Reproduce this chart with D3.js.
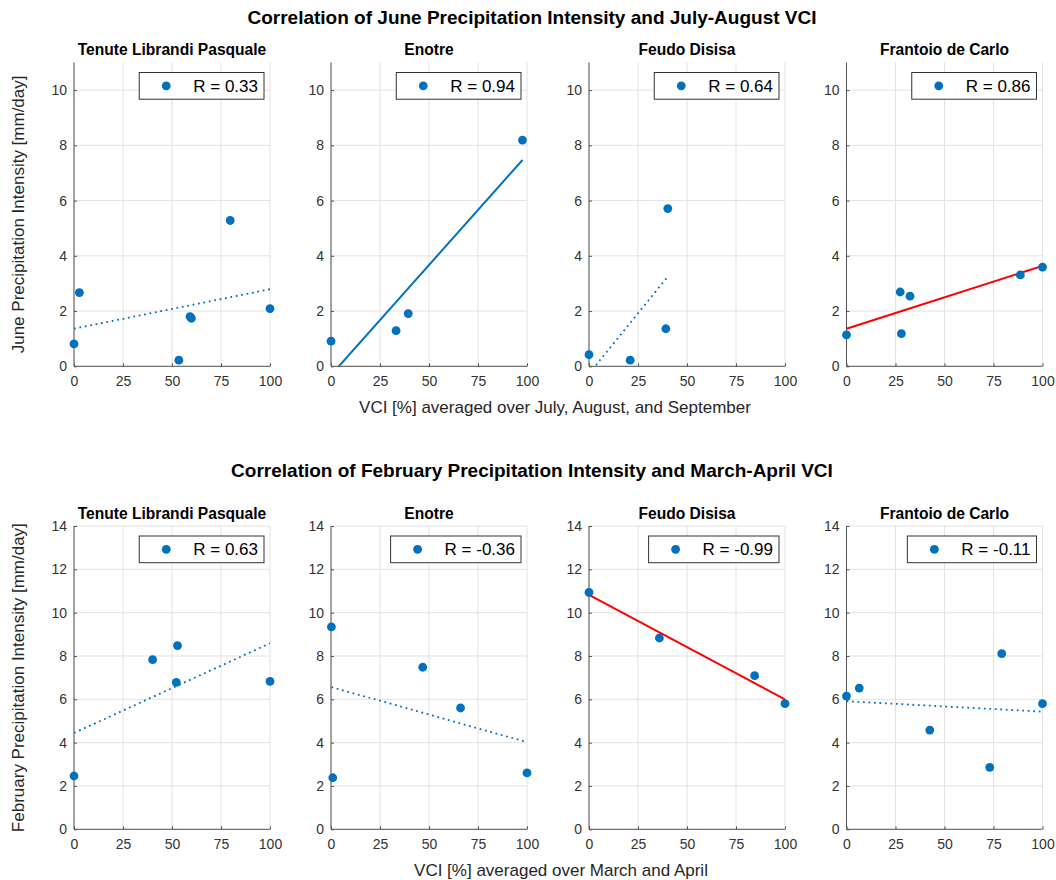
<!DOCTYPE html>
<html>
<head>
<meta charset="utf-8">
<script src="https://cdn.jsdelivr.net/npm/d3@7"></script>
<style>
  body { margin: 0; background: #fff; }
  svg text { font-family: "Liberation Sans", Arial, Helvetica, sans-serif; }
</style>
</head>
<body>
<svg id="chart" width="1056" height="880"></svg>
<script>
// sites shown in both rows
const sites = ["Tenute Librandi Pasquale", "Enotre", "Feudo Disisa", "Frantoio de Carlo"];
const xTicks = [0, 25, 50, 75, 100];

// row 1: June precipitation vs July-September VCI
const juneVCI = [
    [0, 2.75, 53.5, 59.2, 59.9, 79.7, 100],
    [0, 33.2, 39.4, 97.7],
    [0, 21, 39.2, 40.2],
    [0, 27.4, 28, 32.4, 88.7, 100]
];
const junePrecip = [
    [0.81, 2.67, 0.22, 1.80, 1.74, 5.28, 2.09],
    [0.91, 1.29, 1.91, 8.19],
    [0.42, 0.22, 1.36, 5.71],
    [1.14, 2.69, 1.18, 2.54, 3.31, 3.59]
];
const juneR = ["0.33", "0.94", "0.64", "0.86"];
const juneFit = ["dotted", "solid", "dotted", "red"];
const juneYTicks = [0, 2, 4, 6, 8, 10];

// row 2: February precipitation vs March-April VCI
const febVCI = [
    [0, 40.1, 52.2, 52.8, 100],
    [0.2, 0.9, 46.8, 66.1, 100],
    [0, 35.9, 84.5, 100],
    [0, 6.5, 42.5, 73.1, 79.2, 100]
];
const febPrecip = [
    [2.46, 7.83, 6.78, 8.48, 6.83],
    [9.34, 2.38, 7.48, 5.60, 2.60],
    [10.94, 8.83, 7.09, 5.80],
    [6.15, 6.52, 4.58, 2.86, 8.11, 5.80]
];
const febR = ["0.63", "-0.36", "-0.99", "-0.11"];
const febFit = ["dotted", "dotted", "red", "dotted"];
const febYTicks = [0, 2, 4, 6, 8, 10, 12, 14];

const blue = '#0072BD';
const red = '#FF0000';
const axisColor = '#555';
const gridColor = '#e2e2e2';

const svg = d3.select('#chart');
const panelLeft = [74, 331, 589, 846.5];
const panelW = 196;

const rows = [
    {
        title: 'Correlation of June Precipitation Intensity and July-August VCI', titleY: 23.5,
        ylabel: 'June Precipitation Intensity [mm/day]',
        xlabel: 'VCI [%] averaged over July, August, and September', xlabelX: 555,
        top: 62.5, bottom: 366.3, ymax: 11, yTicks: juneYTicks,
        xs: juneVCI, ys: junePrecip, r: juneR, fit: juneFit
    },
    {
        title: 'Correlation of February Precipitation Intensity and March-April VCI', titleY: 477,
        ylabel: 'February Precipitation Intensity [mm/day]',
        xlabel: 'VCI [%] averaged over March and April', xlabelX: 561,
        top: 526, bottom: 829.3, ymax: 14, yTicks: febYTicks,
        xs: febVCI, ys: febPrecip, r: febR, fit: febFit
    }
];

// least-squares line across the data's x range
function fitLine(xs, ys) {
    const mx = d3.mean(xs), my = d3.mean(ys);
    let sxy = 0, sxx = 0;
    xs.forEach((x, i) => { sxy += (x - mx) * (ys[i] - my); sxx += (x - mx) * (x - mx); });
    const slope = sxy / sxx, icpt = my - slope * mx;
    const [x0, x1] = d3.extent(xs);
    return [[x0, icpt + slope * x0], [x1, icpt + slope * x1]];
}

rows.forEach((row, ri) => {
    svg.append('text')
        .attr('x', 532).attr('y', row.titleY)
        .attr('text-anchor', 'middle')
        .style('font-size', '19px').style('font-weight', 'bold').attr('fill', '#000')
        .text(row.title);

    svg.append('text')
        .attr('transform', `translate(23.5, ${(row.top + row.bottom) / 2}) rotate(-90)`)
        .attr('text-anchor', 'middle')
        .style('font-size', '17px').attr('fill', '#262626')
        .text(row.ylabel);

    svg.append('text')
        .attr('x', row.xlabelX).attr('y', row.bottom + 47)
        .attr('text-anchor', 'middle')
        .style('font-size', '17px').attr('fill', '#262626')
        .text(row.xlabel);

    sites.forEach((site, pi) => {
        const left = panelLeft[pi];
        const x = d3.scaleLinear().domain([0, 100]).range([left, left + panelW]);
        const y = d3.scaleLinear().domain([0, row.ymax]).range([row.bottom, row.top]);
        const g = svg.append('g');

        const clipId = `clip-${ri}-${pi}`;
        g.append('clipPath').attr('id', clipId)
            .append('rect')
            .attr('x', left).attr('y', row.top)
            .attr('width', panelW).attr('height', row.bottom - row.top);

        // grid
        g.selectAll('.gx').data(xTicks).enter().append('line')
            .attr('x1', d => x(d)).attr('x2', d => x(d))
            .attr('y1', row.top).attr('y2', row.bottom)
            .attr('stroke', gridColor).attr('stroke-width', 1);
        g.selectAll('.gy').data(row.yTicks).enter().append('line')
            .attr('x1', left).attr('x2', left + panelW)
            .attr('y1', d => y(d)).attr('y2', d => y(d))
            .attr('stroke', gridColor).attr('stroke-width', 1);

        // axes
        const xAxis = d3.axisBottom(x).tickValues(xTicks).tickSize(-3).tickPadding(10).tickFormat(d3.format('d'));
        const yAxis = d3.axisLeft(y).tickValues(row.yTicks).tickSize(-3).tickPadding(7).tickFormat(d3.format('d'));

        g.append('g')
            .attr('transform', `translate(0, ${row.bottom})`)
            .call(xAxis)
            .call(a => {
                a.select('.domain').remove();
                a.selectAll('.tick line').attr('stroke', axisColor);
                a.selectAll('.tick text').style('font-size', '14px').attr('fill', '#333');
            });
        g.append('g')
            .attr('transform', `translate(${left}, 0)`)
            .call(yAxis)
            .call(a => {
                a.select('.domain').remove();
                a.selectAll('.tick line').attr('stroke', axisColor);
                a.selectAll('.tick text').style('font-size', '14px').attr('fill', '#333');
            });

        g.append('line')
            .attr('x1', left).attr('x2', left).attr('y1', row.top).attr('y2', row.bottom)
            .attr('stroke', axisColor).attr('stroke-width', 1);
        g.append('line')
            .attr('x1', left).attr('x2', left + panelW).attr('y1', row.bottom).attr('y2', row.bottom)
            .attr('stroke', axisColor).attr('stroke-width', 1);

        // fitted line
        const pts = fitLine(row.xs[pi], row.ys[pi]);
        const style = row.fit[pi];
        g.append('path')
            .attr('clip-path', `url(#${clipId})`)
            .attr('d', d3.line().x(d => x(d[0])).y(d => y(d[1]))(pts))
            .attr('fill', 'none')
            .attr('stroke', style === 'red' ? red : blue)
            .attr('stroke-width', style === 'dotted' ? 1.8 : 2)
            .attr('stroke-dasharray', style === 'dotted' ? '1.8,3.7' : null);

        // points
        const data = row.xs[pi].map((v, i) => ({ vci: v, p: row.ys[pi][i] }));
        g.selectAll('.pt').data(data).enter().append('circle')
            .attr('cx', d => x(d.vci)).attr('cy', d => y(d.p))
            .attr('r', 4.4).attr('fill', blue);

        // subplot title
        g.append('text')
            .attr('x', left + panelW / 2).attr('y', row.top - 7.5)
            .attr('text-anchor', 'middle')
            .style('font-size', '15.6px').style('font-weight', 'bold').attr('fill', '#000')
            .text(site);

        // legend
        const leg = g.append('g');
        const box = leg.append('rect');
        const label = leg.append('text')
            .style('font-size', '17px').attr('fill', '#000')
            .text('R = ' + row.r[pi]);
        const tw = label.node().getComputedTextLength();
        const bw = 54 + tw + 6, bh = 26.7;
        const bx = left + panelW - 6 - bw, by = row.top + 10;
        box.attr('x', bx).attr('y', by).attr('width', bw).attr('height', bh)
            .attr('fill', '#fff').attr('stroke', '#333').attr('stroke-width', 1);
        label.attr('x', bx + 54).attr('y', by + bh / 2 + 6);
        leg.append('circle')
            .attr('cx', bx + 27).attr('cy', by + bh / 2)
            .attr('r', 4.4).attr('fill', blue);
    });
});
</script>
</body>
</html>
